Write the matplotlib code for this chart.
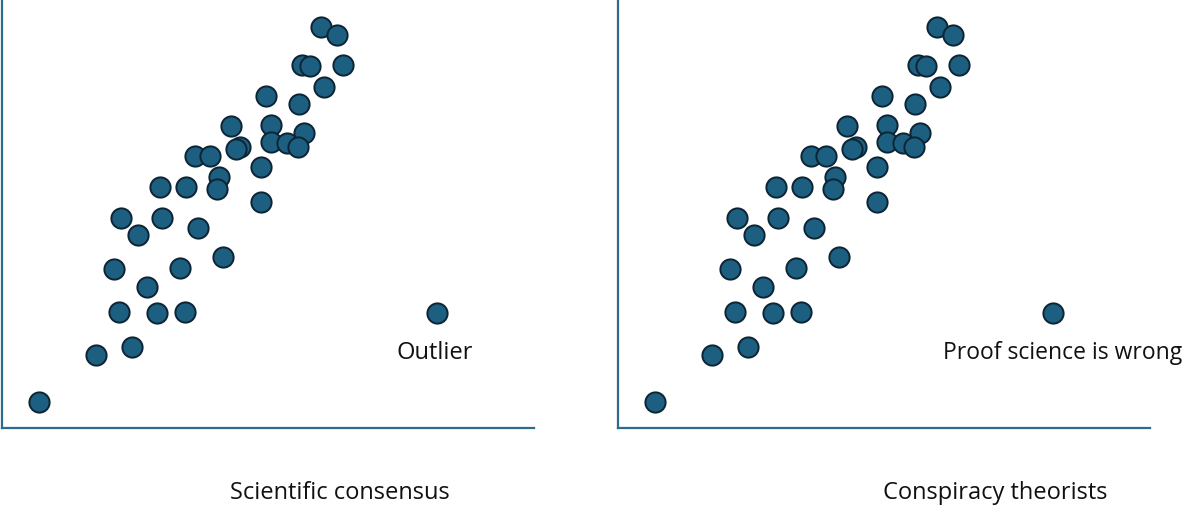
import matplotlib
matplotlib.use("Agg")
import matplotlib.pyplot as plt

# point positions, same cloud on both panels (0-100 units on each axis)
X_VALS = [7.04, 17.69, 24.56, 22.07, 29.26, 34.40, 27.38, 21.18, 33.52, 41.54,
          25.58, 22.44, 30.08, 36.96, 29.77, 34.65, 40.90, 40.53, 48.68, 36.34,
          39.15, 44.79, 43.98, 43.04, 48.68, 50.55, 50.55, 56.81, 53.67, 55.74,
          49.67, 55.87, 60.56, 56.38, 57.93, 64.08, 59.94, 63.06]
Y_VALS = [6.18, 17.15, 18.95, 27.26, 27.02, 27.26, 32.95, 37.22, 37.39, 40.09,
          45.16, 49.05, 49.05, 46.72, 56.29, 56.29, 58.76, 55.82, 52.93, 63.59,
          63.59, 65.62, 65.16, 70.60, 61.10, 70.76, 66.79, 69.03, 66.70, 65.76,
          77.60, 75.73, 79.77, 84.83, 84.67, 84.83, 93.77, 91.83]
OUTLIER = (81.78, 26.95)

PANELS = ["Scientific consensus", "Conspiracy theorists"]
OUTLIER_LABELS = ["Outlier", "Proof science is wrong"]

FILL = "#1c5f80"
EDGE = "#0c2433"
AXIS = "#2d6c8a"

plt.rcParams["font.family"] = ["Open Sans", "DejaVu Sans"]

fig = plt.figure(figsize=(12, 5.24), dpi=100)

lefts = [0.00125, 0.5146]
label_x = [74.1, 61.1]
caption_x = [0.635, 0.709]
label_size = [17, 16.5]

for i, left in enumerate(lefts):
    ax = fig.add_axes([left, 0.1823, 0.44375, 0.8177])
    ax.set_xlim(0, 100)
    ax.set_ylim(0, 100)
    ax.scatter(X_VALS + [OUTLIER[0]], Y_VALS + [OUTLIER[1]], s=212,
               color=FILL, edgecolors=EDGE, linewidths=1.4, zorder=3, clip_on=False)
    ax.spines["top"].set_visible(False)
    ax.spines["right"].set_visible(False)
    for side in ("left", "bottom"):
        ax.spines[side].set_color(AXIS)
        ax.spines[side].set_linewidth(1.6)
    ax.set_xticks([])
    ax.set_yticks([])
    ax.text(label_x[i], 17.6, OUTLIER_LABELS[i], ha="left", va="center",
            fontsize=label_size[i], color="#111111")
    ax.text(caption_x[i], -0.1505, PANELS[i], transform=ax.transAxes,
            ha="center", va="center", fontsize=17, color="#111111")

fig.savefig("out.png", dpi=100)
